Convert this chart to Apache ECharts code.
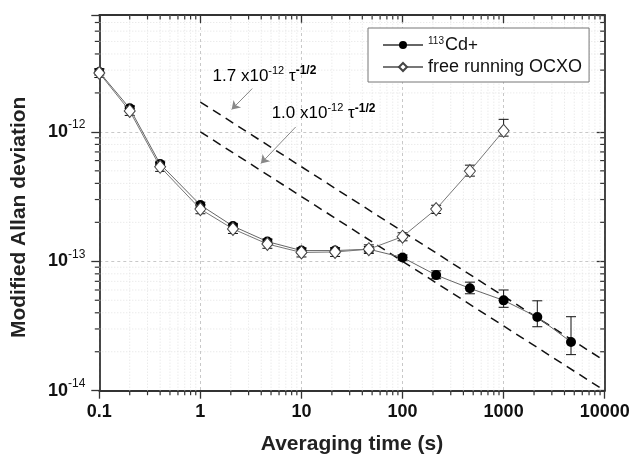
<!DOCTYPE html>
<html>
<head>
<meta charset="utf-8">
<script src="https://cdn.jsdelivr.net/npm/echarts@6/dist/echarts.min.js"></script>
<style>html,body{margin:0;padding:0;background:#fff}#c{width:634px;height:455px}</style>
</head>
<body>
<div id="c"></div>
<script>
// ---- data ----
const tauCd   = [0.1, 0.2, 0.4, 1, 2.1, 4.6, 10, 21.5, 46.4, 100, 215, 464, 1000, 2154, 4642];
const cdVal   = [2.9e-12, 1.52e-12, 5.64e-13, 2.72e-13, 1.87e-13, 1.42e-13, 1.21e-13, 1.21e-13, 1.24e-13, 1.07e-13, 7.82e-14, 6.18e-14, 4.99e-14, 3.71e-14, 2.38e-14];
const cdLow   = [2.75e-12, 1.44e-12, 5.35e-13, 2.58e-13, 1.78e-13, 1.35e-13, 1.15e-13, 1.15e-13, 1.18e-13, 1.02e-13, 7.33e-14, 5.61e-14, 4.41e-14, 3.12e-14, 1.9e-14];
const cdHigh  = [3.05e-12, 1.60e-12, 5.93e-13, 2.86e-13, 1.96e-13, 1.49e-13, 1.27e-13, 1.27e-13, 1.30e-13, 1.12e-13, 8.44e-14, 6.9e-14, 6.0e-14, 4.95e-14, 3.73e-14];

const tauOcxo  = [0.1, 0.2, 0.4, 1, 2.1, 4.6, 10, 21.5, 46.4, 100, 215, 464, 1000];
const ocxoVal  = [2.85e-12, 1.45e-12, 5.37e-13, 2.53e-13, 1.78e-13, 1.36e-13, 1.17e-13, 1.18e-13, 1.24e-13, 1.55e-13, 2.53e-13, 4.98e-13, 1.02e-12];
const ocxoLow  = [2.63e-12, 1.34e-12, 4.95e-13, 2.33e-13, 1.64e-13, 1.26e-13, 1.08e-13, 1.09e-13, 1.15e-13, 1.44e-13, 2.34e-13, 4.55e-13, 9.27e-13];
const ocxoHigh = [3.08e-12, 1.57e-12, 5.80e-13, 2.73e-13, 1.92e-13, 1.47e-13, 1.26e-13, 1.27e-13, 1.34e-13, 1.66e-13, 2.71e-13, 5.53e-13, 1.25e-12];

const fitTau  = [1, 10000];
const fit17   = [1.7e-12, 1.7e-14];
const fit10   = [1.0e-12, 1.0e-14];

const xTicks = [0.1, 1, 10, 100, 1000, 10000];
const xTickLabels = ['0.1', '1', '10', '100', '1000', '10000'];
const yTicks = [1e-14, 1e-13, 1e-12];
const yTickExp = ['-14', '-13', '-12'];

// annotation anchors in data coordinates
const ann1Text = [1.32, 2.7e-12], ann2Text = [5.07, 1.39e-12];
const arrow1 = [[3.26, 2.16e-12], [2.04, 1.49e-12]];
const arrow2 = [[8.76, 1.09e-12], [3.97, 5.7e-13]];

const xMin = 0.1, xMax = 10000, yMin = 1e-14, yMax = 8e-12;

const xMinor = [], yMinor = [];
[0.1, 1, 10, 100, 1000].forEach(d => { for (let k = 2; k <= 9; k++) xMinor.push(k * d); });
[1e-14, 1e-13, 1e-12].forEach(d => { for (let k = 2; k <= 9; k++) if (k * d < yMax * 0.999) yMinor.push(k * d); });

const FONT = '"Liberation Sans", Arial, sans-serif';
const chart = echarts.init(document.getElementById('c'));

function nearIdx(arr, v) {
  for (let i = 0; i < arr.length; i++) if (Math.abs(Math.log10(v) - Math.log10(arr[i])) < 0.01) return i;
  return -1;
}

function errBar(params, api) {
  const x = api.value(0);
  const lo = api.coord([x, api.value(1)]);
  const hi = api.coord([x, api.value(2)]);
  const w = 5;
  const st = {stroke: '#111', lineWidth: 1};
  return {type: 'group', children: [
    {type: 'line', shape: {x1: lo[0], y1: lo[1], x2: hi[0], y2: hi[1]}, style: st},
    {type: 'line', shape: {x1: lo[0] - w, y1: lo[1], x2: lo[0] + w, y2: lo[1]}, style: st},
    {type: 'line', shape: {x1: hi[0] - w, y1: hi[1], x2: hi[0] + w, y2: hi[1]}, style: st}
  ]};
}

const tickStyle = {stroke: '#333', lineWidth: 1.2};
const minorGrid = {stroke: '#e2e2e2', lineWidth: 1, lineDash: [1, 2]};

function xMinorItem(params, api) {
  const v = api.value(0);
  const b = api.coord([v, yMin]), t = api.coord([v, yMax]);
  return {type: 'group', children: [
    {type: 'line', shape: {x1: b[0], y1: b[1], x2: t[0], y2: t[1]}, style: minorGrid},
    {type: 'line', shape: {x1: b[0], y1: b[1], x2: b[0], y2: b[1] + 4.5}, style: tickStyle},
    {type: 'line', shape: {x1: t[0], y1: t[1], x2: t[0], y2: t[1] + 4.5}, style: tickStyle}
  ]};
}
function yMinorItem(params, api) {
  const v = api.value(1);
  const l = api.coord([xMin, v]), r = api.coord([xMax, v]);
  return {type: 'group', children: [
    {type: 'line', shape: {x1: l[0], y1: l[1], x2: r[0], y2: r[1]}, style: minorGrid},
    {type: 'line', shape: {x1: l[0], y1: l[1], x2: l[0] - 4.5, y2: l[1]}, style: tickStyle},
    {type: 'line', shape: {x1: r[0], y1: r[1], x2: r[0] - 4.5, y2: r[1]}, style: tickStyle}
  ]};
}

const axisLineStyle = {color: '#333', width: 1.8};
const majorGrid = {show: true, lineStyle: {color: '#c8c8c8', type: [3, 3], width: 1}};

const option = {
  animation: false,
  backgroundColor: '#fff',
  textStyle: {fontFamily: FONT},
  grid: {left: 99.3, right: 29.3, top: 15, bottom: 64.3, containLabel: false, outerBoundsMode: 'none'},
  legend: {
    data: ['cd', 'ocxo'],
    orient: 'vertical',
    left: 368, top: 28,
    padding: [8, 7, 6, 14],
    itemGap: 4,
    itemWidth: 40, itemHeight: 10,
    backgroundColor: '#fff',
    borderColor: '#777', borderWidth: 1, borderRadius: 0,
    formatter: n => n === 'cd' ? '{sup|113}{t|Cd}{sup2|+}' : '{t|free running OCXO}',
    textStyle: {
      fontFamily: FONT, color: '#111', fontSize: 18,
      rich: {
        t: {fontSize: 18, lineHeight: 17, fontFamily: FONT, color: '#111'},
        sup: {fontSize: 10, lineHeight: 10, verticalAlign: 'top', fontFamily: FONT, color: '#111', padding: [0, 1, 0, 0]},
        sup2: {fontSize: 17, lineHeight: 8, verticalAlign: 'top', fontFamily: FONT, color: '#111'}
      }
    }
  },
  xAxis: [{
    type: 'log', logBase: 10, min: xMin, max: xMax,
    name: 'Averaging time (s)', nameLocation: 'middle', nameGap: 43,
    nameTextStyle: {fontFamily: FONT, fontSize: 21, fontWeight: 'bold', color: '#222'},
    axisLine: {show: true, onZero: false, lineStyle: axisLineStyle},
    axisTick: {show: true, inside: false, length: 8, lineStyle: {color: '#333', width: 1.3}},
    minorTick: {show: false},
    splitLine: majorGrid,
    axisLabel: {
      margin: 12, fontFamily: FONT, fontSize: 18, fontWeight: 'bold', color: '#111',
      showMinLabel: true, showMaxLabel: true,
      formatter: v => { const i = nearIdx(xTicks, v); return i >= 0 ? xTickLabels[i] : ''; }
    }
  }, {
    type: 'log', logBase: 10, min: xMin, max: xMax, position: 'top',
    axisLine: {show: true, onZero: false, lineStyle: axisLineStyle},
    axisTick: {show: true, inside: true, length: 8, lineStyle: {color: '#333', width: 1.3}},
    axisLabel: {show: false}, splitLine: {show: false}
  }],
  yAxis: [{
    type: 'log', logBase: 10, min: yMin, max: yMax,
    name: 'Modified Allan deviation', nameLocation: 'middle', nameGap: 70,
    nameTextStyle: {fontFamily: FONT, fontSize: 21, fontWeight: 'bold', color: '#222', padding: [0, 29, 0, 0]},
    axisLine: {show: true, onZero: false, lineStyle: axisLineStyle},
    axisTick: {show: true, inside: false, length: 8, lineStyle: {color: '#333', width: 1.3}},
    minorTick: {show: false},
    splitLine: majorGrid,
    axisLabel: {
      margin: 14, showMaxLabel: true,
      formatter: v => { const i = nearIdx(yTicks, v); return i >= 0 ? '{b|10}{s|' + yTickExp[i] + '}' : ''; },
      rich: {
        b: {fontFamily: FONT, fontSize: 18, fontWeight: 'bold', color: '#111', lineHeight: 26},
        s: {fontFamily: FONT, fontSize: 12, color: '#111', lineHeight: 12, verticalAlign: 'top'}
      }
    }
  }, {
    type: 'log', logBase: 10, min: yMin, max: yMax, position: 'right',
    axisLine: {show: true, onZero: false, lineStyle: axisLineStyle},
    axisTick: {show: true, inside: true, length: 8, lineStyle: {color: '#333', width: 1.3}},
    axisLabel: {show: false}, splitLine: {show: false}
  }],
  series: [
    {type: 'custom', name: 'xminor', renderItem: xMinorItem, data: xMinor.map(v => [v, yMin]), silent: true, z: 1, clip: false},
    {type: 'custom', name: 'yminor', renderItem: yMinorItem, data: yMinor.map(v => [xMin, v]), silent: true, z: 1, clip: false},
    {
      type: 'line', name: 'fit17', data: fitTau.map((t, i) => [t, fit17[i]]), symbol: 'none', silent: true, z: 2,
      lineStyle: {color: '#111', width: 1.5, type: [9, 6]},
      markLine: {
        silent: true, symbol: ['none', 'arrow'], symbolSize: 8, label: {show: false},
        lineStyle: {color: '#888', width: 1, type: 'solid'},
        emphasis: {disabled: true},
        data: [
          [{coord: arrow1[0]}, {coord: arrow1[1]}],
          [{coord: arrow2[0]}, {coord: arrow2[1]}]
        ]
      }
    },
    {type: 'line', name: 'fit10', data: fitTau.map((t, i) => [t, fit10[i]]), symbol: 'none', silent: true, z: 2,
      lineStyle: {color: '#111', width: 1.5, type: [9, 6]}},
    {type: 'custom', name: 'cdErr', renderItem: errBar, encode: {x: 0, y: [1, 2]},
      data: tauCd.map((t, i) => [t, cdLow[i], cdHigh[i]]), z: 3, silent: true},
    {type: 'custom', name: 'ocxoErr', renderItem: errBar, encode: {x: 0, y: [1, 2]},
      data: tauOcxo.map((t, i) => [t, ocxoLow[i], ocxoHigh[i]]), z: 3, silent: true},
    {type: 'line', name: 'cd', data: tauCd.map((t, i) => [t, cdVal[i]]), z: 4,
      symbol: 'circle', symbolSize: 10, showAllSymbol: true,
      itemStyle: {color: '#000', borderColor: '#000', borderWidth: 0},
      lineStyle: {color: '#666', width: 1}},
    {type: 'line', name: 'ocxo', data: tauOcxo.map((t, i) => [t, ocxoVal[i]]), z: 5,
      symbol: 'diamond', symbolSize: [11, 13], showAllSymbol: true,
      itemStyle: {color: '#fff', borderColor: '#444', borderWidth: 1},
      lineStyle: {color: '#777', width: 1}}
  ]
};
chart.setOption(option);

function annText(coef) {
  return '{m|' + coef + ' x10}{s|-12}{m| τ}{b|-1/2}';
}
const annRich = {
  m: {fontFamily: FONT, fontSize: 17, color: '#111', lineHeight: 22},
  s: {fontFamily: FONT, fontSize: 11, color: '#111', lineHeight: 12, verticalAlign: 'top'},
  b: {fontFamily: FONT, fontSize: 12, fontWeight: 'bold', color: '#111', lineHeight: 12, verticalAlign: 'top'}
};
const p1 = chart.convertToPixel({xAxisIndex: 0, yAxisIndex: 0}, ann1Text);
const p2 = chart.convertToPixel({xAxisIndex: 0, yAxisIndex: 0}, ann2Text);
chart.setOption({
  graphic: [
    {type: 'text', x: p1[0], y: p1[1], z: 10, style: {text: annText('1.7'), rich: annRich, align: 'left', verticalAlign: 'middle'}},
    {type: 'text', x: p2[0], y: p2[1], z: 10, style: {text: annText('1.0'), rich: annRich, align: 'left', verticalAlign: 'middle'}}
  ]
});
</script>
</body>
</html>
